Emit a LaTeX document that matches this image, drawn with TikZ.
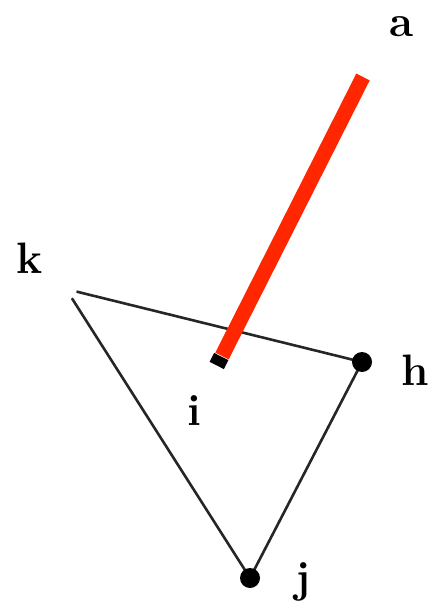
\documentclass[tikz,border=0pt]{standalone}
\definecolor{redline}{RGB}{255,38,0}
\begin{document}
\begin{tikzpicture}[x=1pt,y=-1pt,
  edge/.style={draw=black!85,line width=2.6pt},
  redge/.style={draw=redline,line width=15pt,line cap=butt},
  bdot/.style={circle,fill=black,inner sep=0pt,minimum size=20pt},
  sdot/.style={rectangle,rotate=-27,fill=black,inner sep=0pt,minimum width=16pt,minimum height=10pt},
  wdot/.style={circle,fill=white,inner sep=0pt,minimum size=22pt},
  lab/.style={inner sep=0pt,font=\fontsize{44}{44}\selectfont\bfseries}]
\useasboundingbox (0,0) rectangle (438,609);
\coordinate (k) at (66,289);
\coordinate (h) at (362,362);
\coordinate (j) at (250,578);
\coordinate (i) at (219,361);
\coordinate (a) at (366,72);
\coordinate (aend) at (363,77);
\draw[edge] (k) -- (h);
\draw[edge] (k) -- (j);
\draw[edge] (h) -- (j);
\node[wdot] (kdot) at (k) {};
\node[wdot] (adot) at (a) {};
\node[sdot] (idot) at (i) {};
\draw[redge] ([shift={(3,-5)}]idot.center) -- (aend);
\node[bdot] (hdot) at (h) {};
\node[bdot] (jdot) at (j) {};
\node[lab] (la) at (402,27) {a};
\node[lab] (lk) at (30,258) {k};
\node[lab] (li) at (194,411) {i};
\node[lab] (lh) at (415,370) {h};
\node[lab] (lj) at (303,582) {j};
\end{tikzpicture}
\end{document}
